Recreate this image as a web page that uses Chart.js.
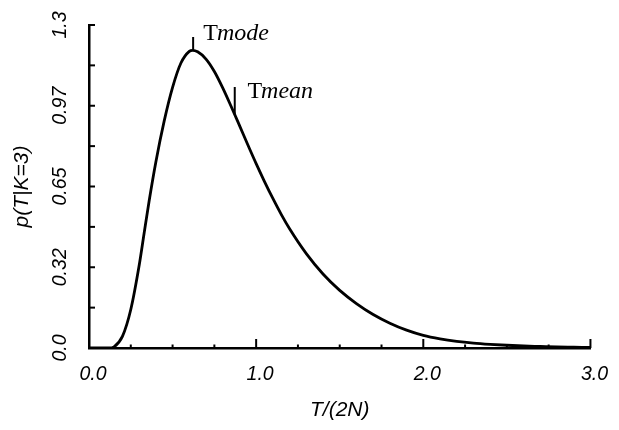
<!DOCTYPE html>
<html>
<head>
<meta charset="utf-8">
<script src="https://cdn.jsdelivr.net/npm/chart.js@4.4.1/dist/chart.umd.min.js"></script>
<style>
  html, body { margin: 0; padding: 0; background: #fff; }
  #wrap { width: 619px; height: 430px; position: relative; }
</style>
</head>
<body>
<div id="wrap"><canvas id="c" width="619" height="430"></canvas></div>
<script>
// ---- data ----
const tValues = [0.0, 0.08, 0.12, 0.15, 0.20, 0.25, 0.30, 0.33, 0.36, 0.40, 0.45, 0.50, 0.55, 0.60, 0.62, 0.65, 0.70, 0.75, 0.80, 0.85, 0.90, 0.95, 1.00, 1.05, 1.10, 1.15, 1.20, 1.30, 1.40, 1.50, 1.60, 1.70, 1.80, 1.90, 2.00, 2.10, 2.20, 2.30, 2.40, 2.50, 2.60, 2.70, 2.80, 2.90, 3.00];
const pValues = [0.0, 0.0, 0.0, 0.005, 0.047, 0.155, 0.332, 0.463, 0.593, 0.749, 0.914, 1.049, 1.147, 1.194, 1.198, 1.192, 1.163, 1.113, 1.047, 0.973, 0.896, 0.818, 0.742, 0.670, 0.602, 0.538, 0.480, 0.380, 0.298, 0.232, 0.179, 0.135, 0.100, 0.072, 0.051, 0.037, 0.027, 0.020, 0.015, 0.011, 0.008, 0.006, 0.004, 0.003, 0.002];

const xTickValues = [0, 1, 2, 3];
const xTickLabels = ['0.0', '1.0', '2.0', '3.0'];
const yTickValues = [0, 0.325, 0.65, 0.975, 1.3];
const yTickLabels = ['0.0', '0.32', '0.65', '0.97', '1.3'];

const modeMarkerT = [0.623, 0.623];
const modeMarkerP = [1.197, 1.252];
const meanMarkerT = [0.872, 0.872];
const meanMarkerP = [0.94, 1.05];

const annotTexts = [['T', 'mode'], ['T', 'mean']];
const annotT = [0.684, 0.948];
const annotP = [1.24, 1.007];

const xTitle = 'T/(2N)';
const yTitle = 'p(T|K=3)';

// ---- helpers ----
const toPts = (xs, ys) => xs.map((x, i) => ({ x: x, y: ys[i] }));

const ticksPlugin = {
  id: 'inwardTicks',
  afterDatasetsDraw(chart) {
    const ctx = chart.ctx;
    const xs = chart.scales.x, ys = chart.scales.y;
    const ca = chart.chartArea;
    ctx.save();
    ctx.strokeStyle = '#000';
    ctx.lineCap = 'butt';
    ctx.lineWidth = 2;
    for (let i = 1; i <= 12; i++) {
      const v = i * 0.25;
      const px = xs.getPixelForValue(v);
      const major = (i % 4 === 0);
      ctx.beginPath();
      ctx.moveTo(px, ca.bottom);
      ctx.lineTo(px, ca.bottom - (major ? 9 : 3.5));
      ctx.stroke();
    }
    for (let i = 1; i <= 8; i++) {
      const v = i * 0.1625;
      const py = ys.getPixelForValue(v);
      ctx.beginPath();
      ctx.moveTo(ca.left, py);
      ctx.lineTo(ca.left + 6, py);
      ctx.stroke();
    }
    ctx.fillStyle = '#000';
    ctx.textBaseline = 'alphabetic';
    ctx.textAlign = 'left';
    annotTexts.forEach((parts, i) => {
      const px = xs.getPixelForValue(annotT[i]);
      const py = ys.getPixelForValue(annotP[i]);
      ctx.font = '24px "Liberation Serif", "Times New Roman", serif';
      ctx.fillText(parts[0], px, py);
      const w = ctx.measureText(parts[0]).width;
      ctx.font = 'italic 24px "Liberation Serif", "Times New Roman", serif';
      ctx.fillText(parts[1], px + w - 1, py);
    });
    ctx.restore();
  }
};

const tickFont = { family: '"Liberation Sans", Arial, Helvetica, sans-serif', size: 19.5, style: 'italic' };
const titleFont = { family: '"Liberation Sans", Arial, Helvetica, sans-serif', size: 21, style: 'italic' };

new Chart(document.getElementById('c'), {
  type: 'scatter',
  data: {
    datasets: [
      {
        data: toPts(tValues, pValues),
        showLine: true,
        borderColor: '#000',
        borderWidth: 2.8,
        pointRadius: 0,
        cubicInterpolationMode: 'monotone',
        fill: false
      },
      {
        data: toPts(modeMarkerT, modeMarkerP),
        showLine: true,
        borderColor: '#000',
        borderWidth: 2,
        pointRadius: 0
      },
      {
        data: toPts(meanMarkerT, meanMarkerP),
        showLine: true,
        borderColor: '#000',
        borderWidth: 2,
        pointRadius: 0
      }
    ]
  },
  options: {
    responsive: false,
    animation: false,
    devicePixelRatio: 1,
    layout: { padding: { top: 25, right: 16, left: 0, bottom: 0 } },
    plugins: { legend: { display: false }, tooltip: { enabled: false } },
    elements: { line: { borderCapStyle: 'butt' } },
    scales: {
      x: {
        type: 'linear',
        min: 0, max: 3,
        afterBuildTicks: (s) => { s.ticks = xTickValues.map(v => ({ value: v })); },
        afterFit: (s) => { s.height = 82; },
        grid: { display: true, drawOnChartArea: false, drawTicks: false },
        border: { display: true, color: '#000', width: 2.5 },
        ticks: {
          color: '#000', font: tickFont, padding: 15, maxRotation: 0, labelOffset: 4,
          callback: (v) => { const i = xTickValues.indexOf(v); return i >= 0 ? xTickLabels[i] : ''; }
        },
        title: { display: true, text: xTitle, color: '#000', font: titleFont, padding: { top: 0, bottom: 7 } }
      },
      y: {
        type: 'linear',
        min: 0, max: 1.3,
        afterBuildTicks: (s) => { s.ticks = yTickValues.map(v => ({ value: v })); },
        afterFit: (s) => { s.width = 89; },
        grid: { display: true, drawOnChartArea: false, drawTicks: false },
        border: { display: true, color: '#000', width: 2.5 },
        ticks: {
          color: '#000', font: tickFont, padding: 9, minRotation: 90, maxRotation: 90, crossAlign: 'center',
          callback: (v) => { const i = yTickValues.indexOf(v); return i >= 0 ? yTickLabels[i] : ''; }
        },
        title: { display: true, text: yTitle, color: '#000', font: titleFont, padding: { top: 10, bottom: 0 } }
      }
    }
  },
  plugins: [ticksPlugin]
});
</script>
</body>
</html>
